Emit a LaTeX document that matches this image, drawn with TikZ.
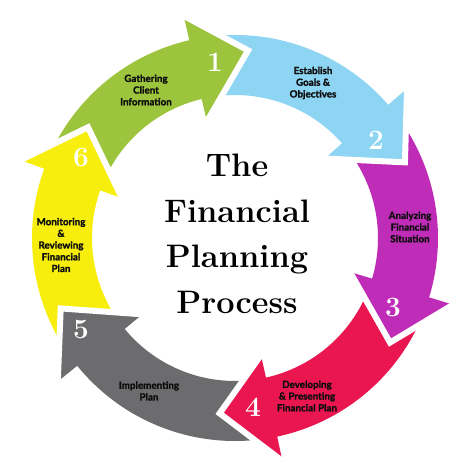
\documentclass[tikz,border=0pt]{standalone}
\usepackage{fontspec}
\newfontfamily\labelfont{Lato}[BoldFeatures={FakeBold=1.6}]
\definecolor{cgreen}{RGB}{156,196,60}
\definecolor{cblue}{RGB}{142,212,243}
\definecolor{cpurple}{RGB}{191,44,184}
\definecolor{cred}{RGB}{233,22,80}
\definecolor{cgray}{RGB}{108,108,110}
\definecolor{cyellow}{RGB}{247,238,14}
\tikzset{
  lbl/.style={font=\labelfont\bfseries\fontsize{9.8}{11.7}\selectfont, align=center, text=black!95},
  num/.style={font=\bfseries\fontsize{28}{28}\selectfont, text=white},
  ttl/.style={font=\bfseries\fontsize{32.5}{32.5}\selectfont, anchor=base},
  gapline/.style={white, line width=6pt, line join=miter},
}
% head only: #1 colour, #2 tip angle, #3 tip radius
\newcommand\myhead[3]{%
  \fill[#1] ({#2+17}:228pt) -- (#2:#3) -- ({#2+17.5}:120pt) -- ({#2+17.5}:143pt) -- ({#2+17}:203pt) -- cycle;
  \draw[gapline] ({#2+17}:228pt) -- (#2:#3) -- ({#2+17.5}:120pt);
}
% whole arrow: #1 colour, #2 tip angle, #3 tip radius, #4 tail angle
\newcommand\myarrow[4]{%
  \fill[#1] (#4:203pt) arc[start angle=#4, end angle={#2+17}, radius=203pt]
     -- ({#2+17}:228pt) -- (#2:#3) -- ({#2+17.5}:120pt) -- ({#2+17.5}:143pt)
     arc[start angle={#2+17.5}, end angle=#4, radius=143pt] -- cycle;
  \draw[gapline] ({#2+17}:228pt) -- (#2:#3) -- ({#2+17.5}:120pt);
}
\begin{document}
\begin{tikzpicture}
\useasboundingbox (-235pt,-233pt) rectangle (239pt,238pt);
\fill[white] (-235pt,-233pt) rectangle (239pt,238pt);
% arrows, drawn so that each head lies over the next tail
\myarrow{cyellow}{143}{184pt}{214}
\myarrow{cgray}{-158}{188pt}{-83}
\myarrow{cred}{-95}{176pt}{-22}
\myarrow{cpurple}{-34}{187pt}{36}
\myarrow{cblue}{24}{186pt}{98}
\myarrow{cgreen}{86}{188pt}{155}
\myhead{cyellow}{143}{184pt}
% numbers
\node[num] (n1) at (-20pt,176pt) {1};
\node[num] (n2) at (141pt,98pt) {2};
\node[num] (n3) at (158pt,-69pt) {3};
\node[num] (n4) at (18pt,-169pt) {4};
\node[num] (n5) at (-154pt,-91pt) {5};
\node[num] (n6) at (-154pt,81pt) {6};
% labels
\node[lbl] (l1) at (-89pt,148pt) {Gathering\\Client\\Information};
\node[lbl] (l2) at (78pt,155pt) {Establish\\Goals \&\\Objectives};
\node[lbl] (l3) at (175pt,11pt) {Analyzing\\Financial\\Situation};
\node[lbl] (l4) at (72pt,-158pt) {Developing\\\& Presenting\\Financial Plan};
\node[lbl] (l5) at (-86pt,-153pt) {Implementing\\Plan};
\node[lbl] (l6) at (-174pt,-7pt) {Monitoring\\\&\\Reviewing\\Financial\\Plan};
% title
\node[ttl] (t1) at (2pt,61pt) {The};
\node[ttl] (t2) at (2pt,15pt) {Financial};
\node[ttl] (t3) at (2pt,-30pt) {Planning};
\node[ttl] (t4) at (2pt,-75pt) {Process};
\end{tikzpicture}
\end{document}
